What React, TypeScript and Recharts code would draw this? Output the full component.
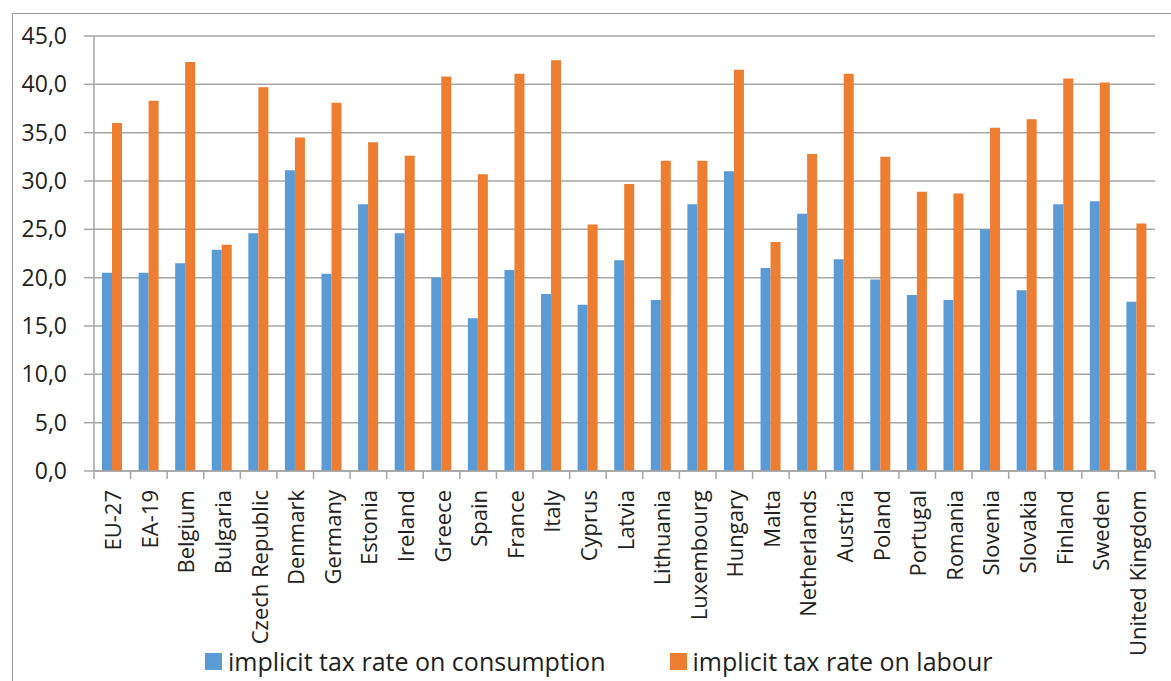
import React from "react";
import {
  BarChart,
  Bar,
  XAxis,
  YAxis,
  CartesianGrid,
  Legend,
} from "recharts";

const COUNTRIES = [
  "EU-27", "EA-19", "Belgium", "Bulgaria", "Czech Republic", "Denmark",
  "Germany", "Estonia", "Ireland", "Greece", "Spain", "France", "Italy",
  "Cyprus", "Latvia", "Lithuania", "Luxembourg", "Hungary", "Malta",
  "Netherlands", "Austria", "Poland", "Portugal", "Romania", "Slovenia",
  "Slovakia", "Finland", "Sweden", "United Kingdom",
];

// implicit tax rate on consumption (%)
const CONSUMPTION = [
  20.5, 20.5, 21.5, 22.9, 24.6, 31.1, 20.4, 27.6, 24.6, 20.0, 15.8, 20.8, 18.3,
  17.2, 21.8, 17.7, 27.6, 31.0, 21.0, 26.6, 21.9, 19.8, 18.2, 17.7, 25.0,
  18.7, 27.6, 27.9, 17.5,
];

// implicit tax rate on labour (%)
const LABOUR = [
  36.0, 38.3, 42.3, 23.4, 39.7, 34.5, 38.1, 34.0, 32.6, 40.8, 30.7, 41.1, 42.5,
  25.5, 29.7, 32.1, 32.1, 41.5, 23.7, 32.8, 41.1, 32.5, 28.9, 28.7, 35.5,
  36.4, 40.6, 40.2, 25.6,
];

const Y_TICKS = [0, 5, 10, 15, 20, 25, 30, 35, 40, 45];

const SERIES_NAMES = [
  "implicit tax rate on consumption",
  "implicit tax rate on labour",
];

const data = COUNTRIES.map((country, i) => ({
  country,
  consumption: CONSUMPTION[i],
  labour: LABOUR[i],
}));

const WIDTH = 1171;
const HEIGHT = 681;
const PLOT_LEFT = 94;
const PLOT_RIGHT = 16;
const BAND = (WIDTH - PLOT_LEFT - PLOT_RIGHT) / COUNTRIES.length;
const FONT = "'Open Sans', sans-serif";
const AXIS_COLOR = "#a6a6a6";
const TEXT_COLOR = "#222";

function CategoryTick(props: any) {
  const { x, y, payload, index } = props;
  const half = BAND / 2;
  const ty = y + 19;
  return (
    <g>
      <line x1={x - half} y1={y} x2={x - half} y2={y + 8} stroke={AXIS_COLOR} strokeWidth={1.5} />
      {index === COUNTRIES.length - 1 && (
        <line x1={x + half} y1={y} x2={x + half} y2={y + 8} stroke={AXIS_COLOR} strokeWidth={1.5} />
      )}
      <text
        x={x}
        y={ty}
        transform={`rotate(-90 ${x} ${ty})`}
        textAnchor="end"
        dominantBaseline="central"
        fontFamily={FONT}
        fontSize={22}
        fill={TEXT_COLOR}
      >
        {payload.value}
      </text>
    </g>
  );
}

function LegendContent(props: any) {
  const items = props.payload || [];
  return (
    <div style={{ display: "flex", alignItems: "center", fontFamily: FONT, fontSize: 25, color: TEXT_COLOR }}>
      {items.map((item: any, i: number) => (
        <div key={i} style={{ display: "flex", alignItems: "center", marginRight: 64 }}>
          <span style={{ display: "inline-block", width: 17, height: 17, background: item.color, marginRight: 6 }} />
          <span style={{ lineHeight: "25px" }}>{item.value}</span>
        </div>
      ))}
    </div>
  );
}

export default function App() {
  return (
    <div style={{ position: "absolute", left: 0, top: 0, width: WIDTH, height: HEIGHT, background: "#fff", overflow: "hidden" }}>
      <div
        style={{
          position: "absolute",
          left: 12,
          top: 13,
          width: WIDTH,
          height: HEIGHT,
          borderLeft: "1.5px solid #9a9a9a",
          borderTop: "1.5px solid #9a9a9a",
        }}
      />
      <div style={{ position: "absolute", left: 0, top: 0 }}>
        <BarChart
          width={WIDTH}
          height={HEIGHT}
          data={data}
          margin={{ top: 36, right: PLOT_RIGHT, left: 0, bottom: 0 }}
          barGap={0}
          barSize={10}
        >
          <CartesianGrid vertical={false} stroke={AXIS_COLOR} strokeWidth={1.5} />
          <XAxis
            dataKey="country"
            interval={0}
            height={210}
            tickSize={0}
            tickMargin={0}
            tickLine={false}
            axisLine={{ stroke: AXIS_COLOR, strokeWidth: 1.5 }}
            tick={<CategoryTick />}
          />
          <YAxis
            width={PLOT_LEFT}
            domain={[0, 45]}
            ticks={Y_TICKS}
            interval={0}
            tickSize={10}
            tickMargin={17}
            tickLine={{ stroke: AXIS_COLOR, strokeWidth: 1.5 }}
            axisLine={{ stroke: AXIS_COLOR, strokeWidth: 1.5 }}
            tickFormatter={(v: number) => v.toFixed(1).replace(".", ",")}
            tick={{ fontFamily: FONT, fontSize: 23, fill: TEXT_COLOR }}
          />
          <Legend
            verticalAlign="middle"
            align="center"
            content={<LegendContent />}
            wrapperStyle={{ left: 205, top: 649, width: "auto" }}
          />
          <Bar dataKey="consumption" name={SERIES_NAMES[0]} fill="#5b9bd5" isAnimationActive={false} />
          <Bar dataKey="labour" name={SERIES_NAMES[1]} fill="#ed7d31" isAnimationActive={false} />
        </BarChart>
      </div>
    </div>
  );
}
